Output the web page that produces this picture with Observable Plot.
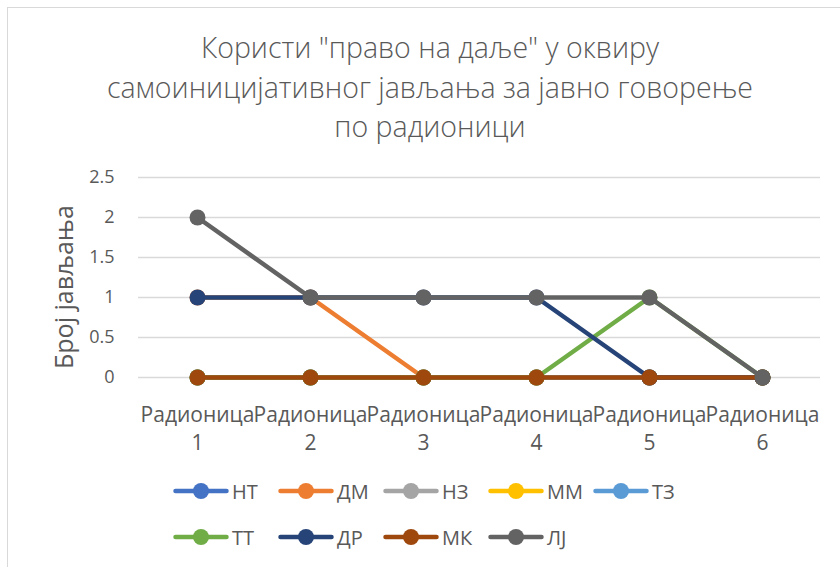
<!DOCTYPE html>
<html>
<head>
<meta charset="utf-8">
<script src="https://cdn.jsdelivr.net/npm/d3@7"></script>
<script src="https://cdn.jsdelivr.net/npm/@observablehq/plot@0.6"></script>
<style>
  body { margin: 0; background: #fff; }
  #wrap { position: relative; width: 840px; height: 567px; overflow: hidden; font-family: "Open Sans", sans-serif; color: #595959; }
  #frame { position: absolute; left: 7px; top: 7px; width: 900px; height: 700px; border-left: 1px solid #d9d9d9; border-top: 1px solid #d9d9d9; }
  #title { position: absolute; left: 0; top: 28px; width: 860px; text-align: center; font-size: 28.5px; line-height: 39.5px; font-weight: 300; color: #595959; }
  #ylabel { position: absolute; left: 63px; top: 287px; transform: translate(-50%, -50%) rotate(-90deg); white-space: nowrap; font-size: 25px; color: #595959; }
  #chart { position: absolute; left: 0; top: 0; }
  .leg { position: absolute; display: flex; align-items: center; font-size: 20px; color: #595959; }
  .leg svg { display: block; margin-right: 3px; }
</style>
</head>
<body>
<div id="wrap">
  <div id="frame"></div>
  <div id="chart"></div>
  <div id="title"></div>
  <div id="ylabel"></div>
  <div id="legend"></div>
</div>
<script>
// ---- data ----
const titleLines = ["Користи \"право на даље\" у оквиру", "самоиницијативног јављања за јавно говорење", "по радионици"];
const yAxisTitle = "Број јављања";
const workshopWord = "Радионица";
const workshopNumbers = [1, 2, 3, 4, 5, 6];
const yTicks = [0, 0.5, 1, 1.5, 2, 2.5];
const seriesNames = ["НТ", "ДМ", "НЗ", "ММ", "ТЗ", "ТТ", "ДР", "МК", "ЛЈ"];
const seriesColors = ["#4472C4", "#ED7D31", "#A5A5A5", "#FFC000", "#5B9BD5", "#70AD47", "#264478", "#9E480E", "#636363"];
const valuesNT = [0, 0, 0, 0, 0, 0];
const valuesDM = [1, 1, 0, 0, 0, 0];
const valuesNZ = [0, 0, 0, 0, 0, 0];
const valuesMM = [0, 0, 0, 0, 0, 0];
const valuesTZ = [0, 0, 0, 0, 0, 0];
const valuesTT = [0, 0, 0, 0, 1, 0];
const valuesDR = [1, 1, 1, 1, 0, 0];
const valuesMK = [0, 0, 0, 0, 0, 0];
const valuesLJ = [2, 1, 1, 1, 1, 0];
const seriesValues = [valuesNT, valuesDM, valuesNZ, valuesMM, valuesTZ, valuesTT, valuesDR, valuesMK, valuesLJ];

// ---- build ----
const categories = workshopNumbers.map(n => workshopWord + " " + n);
const rows = seriesNames.flatMap((name, si) =>
  seriesValues[si].map((v, i) => ({series: name, cat: categories[i], value: v})));

const seriesMarks = seriesNames.flatMap((name, si) => {
  const d = rows.filter(r => r.series === name);
  return [
    Plot.line(d, {x: "cat", y: "value", stroke: seriesColors[si], strokeWidth: 4.5, strokeLinecap: "round", strokeLinejoin: "round"}),
    Plot.dot(d, {x: "cat", y: "value", r: 8, fill: seriesColors[si], stroke: "none"})
  ];
});

const chart = Plot.plot({
  width: 840,
  height: 567,
  marginTop: 177,
  marginBottom: 190,
  marginLeft: 138,
  marginRight: 20,
  style: {fontFamily: "'Open Sans', sans-serif", color: "#595959", background: "transparent", overflow: "visible"},
  x: {type: "point", domain: categories, padding: 0.5},
  y: {domain: [0, 2.5]},
  marks: [
    Plot.gridY(yTicks, {stroke: "#d9d9d9", strokeOpacity: 1, strokeWidth: 1.3}),
    Plot.axisY(yTicks, {tickSize: 0, tickPadding: 24, fontSize: 18, fill: "#595959", label: null, tickFormat: d => String(d)}),
    Plot.axisX({tickSize: 0, tickPadding: 25, fontSize: 21, lineHeight: 1.33, fill: "#595959", label: null,
      tickFormat: d => d.replace(" ", "\n")}),
    ...seriesMarks
  ]
});
document.getElementById("chart").appendChild(chart);

document.getElementById("title").innerHTML = titleLines.join("<br>");
document.getElementById("ylabel").textContent = yAxisTitle;

// legend
const legend = document.getElementById("legend");
seriesNames.forEach((name, i) => {
  const row = i < 5 ? 0 : 1;
  const col = i < 5 ? i : i - 5;
  const item = document.createElement("div");
  item.className = "leg";
  item.style.left = (173 + col * 105) + "px";
  item.style.top = (row === 0 ? 491 : 537) - 13 + "px";
  item.style.height = "26px";
  item.innerHTML = `<svg width="56" height="20"><line x1="2.5" y1="10" x2="53.5" y2="10" stroke="${seriesColors[i]}" stroke-width="4.5" stroke-linecap="round"/><circle cx="28" cy="10" r="8" fill="${seriesColors[i]}"/></svg><span>${name}</span>`;
  legend.appendChild(item);
});
</script>
</body>
</html>
